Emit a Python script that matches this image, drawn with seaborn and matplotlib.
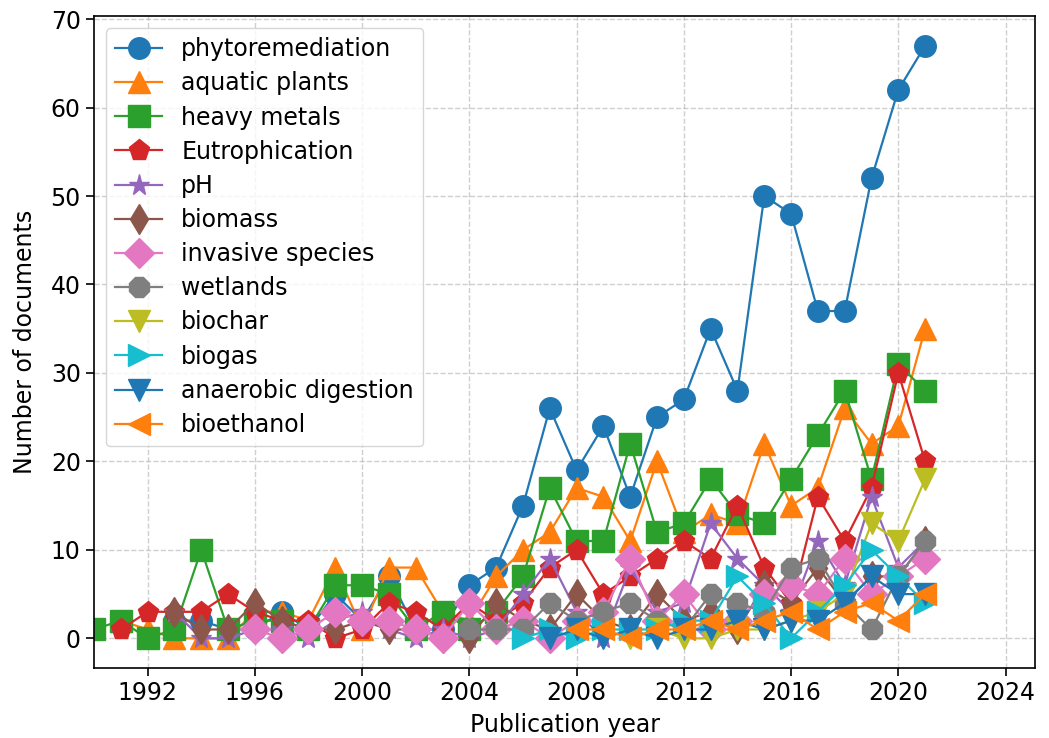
import numpy as np
import pandas as pd
import matplotlib
matplotlib.use("Agg")
import matplotlib.pyplot as plt
import seaborn as sns

nan = np.nan
years = list(range(1990, 2022))

keywords = ["phytoremediation", "aquatic plants", "heavy metals", "Eutrophication",
            "pH", "biomass", "invasive species", "wetlands", "biochar", "biogas",
            "anaerobic digestion", "bioethanol"]

phytoremediation = [nan, nan, nan, 2, 2, 1, 1, 3, 1, 5, 2, 7, 1, 1, 6, 8,
                    15, 26, 19, 24, 16, 25, 27, 35, 28, 50, 48, 37, 37, 52, 62, 67]
aquatic_plants = [nan, 2, 1, 0, 0, 0, 3, 3, 2, 8, 1, 8, 8, 3, 2, 7,
                  10, 12, 17, 16, 11, 20, 12, 14, 13, 22, 15, 17, 26, 22, 24, 35]
heavy_metals = [1, 2, 0, 1, 10, 1, 2, 2, 1, 6, 6, 5, 1, 3, 1, 3,
                7, 17, 11, 11, 22, 12, 13, 18, 14, 13, 18, 23, 28, 18, 31, 28]
eutrophication = [nan, 1, 3, 3, 3, 5, 3, 2, 2, 0, 1, 4, 3, 1, 4, 2,
                  4, 8, 10, 5, 7, 9, 11, 9, 15, 8, 4, 16, 11, 17, 30, 20]
ph = [nan, nan, nan, 3, 0, 0, 1, 1, 0, 2, 3, 1, 0, 1, 0, 1,
      5, 9, 3, 0, 8, 3, 4, 13, 9, 6, 3, 11, 6, 16, 8, 11]
biomass = [nan, nan, nan, 3, 1, 1, 4, 2, 1, 1, 2, 1, 1, 0, 0, 4,
           2, 1, 5, 2, 1, 5, 2, 3, 1, 6, 4, 8, 4, 7, 7, 11]
invasive_species = [nan, nan, nan, nan, nan, nan, 1, 0, 1, 3, 2, 2, 1, 0, 4, 1,
                    2, 0, 2, 3, 9, 2, 5, 1, 2, 5, 6, 5, 9, 5, 7, 9]
wetlands = [nan, nan, nan, nan, nan, nan, nan, nan, nan, nan, nan, nan, nan, nan, 1, 1,
            1, 4, 2, 3, 4, 2, 1, 5, 4, 3, 8, 9, 4, 1, 7, 11]
biochar = [nan, nan, nan, nan, nan, nan, nan, nan, nan, nan, nan, nan, nan, nan, nan, nan,
           nan, nan, nan, nan, 0, 1, 0, 0, 1, 1, 2, 3, 5, 13, 11, 18]
biogas = [nan, nan, nan, nan, nan, nan, nan, nan, nan, nan, nan, nan, nan, nan, nan, nan,
          0, 1, 0, 1, 1, 1, 2, 2, 7, 4, 0, 3, 6, 10, 7, 4]
anaerobic_digestion = [nan, nan, nan, nan, nan, nan, nan, nan, nan, nan, nan, nan, nan, nan, nan, nan,
                       nan, 0, 1, 0, 1, 0, 1, 1, 2, 1, 2, 2, 4, 7, 5, 5]
bioethanol = [nan, nan, nan, nan, nan, nan, nan, nan, nan, nan, nan, nan, nan, nan, nan, nan,
              nan, nan, 1, 1, 0, 1, 1, 2, 1, 2, 3, 1, 3, 4, 2, 5]

series = [phytoremediation, aquatic_plants, heavy_metals, eutrophication, ph, biomass,
          invasive_species, wetlands, biochar, biogas, anaerobic_digestion, bioethanol]

markers = ["o", "^", "s", "p", "*", "d", "D", "8", "v", ">", "v", "<"]
palette = sns.color_palette("tab10", 10)
colors = [palette[i % 10] for i in range(len(keywords))]

plt.rcParams["font.family"] = "DejaVu Sans"
plt.rcParams["font.size"] = 17
plt.rcParams["axes.linewidth"] = 1.2
plt.rcParams["xtick.major.size"] = 6
plt.rcParams["ytick.major.size"] = 6
plt.rcParams["xtick.major.width"] = 1.2
plt.rcParams["ytick.major.width"] = 1.2

fig = plt.figure(figsize=(10.49, 7.38), dpi=100)
ax = fig.add_axes([0.0896, 0.0949, 0.8971, 0.8834])

for name, vals, m, c in zip(keywords, series, markers, colors):
    df = pd.DataFrame({"year": years, "count": vals}).dropna()
    sns.lineplot(data=df, x="year", y="count", ax=ax, color=c, marker=m,
                 markersize=15.5, markeredgecolor=c, markeredgewidth=1,
                 linewidth=1.6, label=name)

ax.set_xlim(1990, 2025.1)
ax.set_ylim(-3.35, 70.35)
ax.set_xticks(range(1992, 2025, 4))
ax.set_yticks(range(0, 71, 10))
ax.grid(True, linestyle="--", color="#b0b0b0", alpha=0.6, linewidth=1.0)
ax.set_axisbelow(True)
ax.set_xlabel("Publication year", labelpad=6)
ax.set_ylabel("Number of documents", labelpad=10)
ax.legend(loc="upper left", labelspacing=0.43, handlelength=2.0, framealpha=0.8)

fig.savefig("out.png", dpi=100)
